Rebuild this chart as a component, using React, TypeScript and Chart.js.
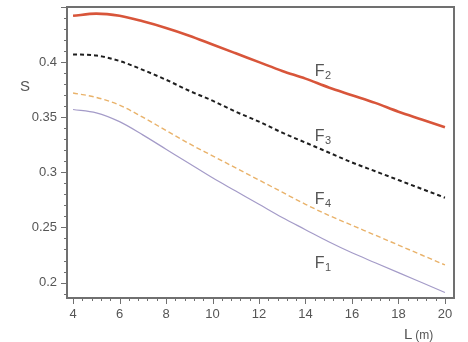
import { useEffect, useRef } from "react";
import { Chart, registerables } from "chart.js";

Chart.register(...registerables);

const L_VALUES = [4, 5, 6, 7, 8, 9, 10, 11, 12, 13, 14, 15, 16, 17, 18, 19, 20];
const F1 = [0.357, 0.354, 0.346, 0.334, 0.321, 0.308, 0.295, 0.283, 0.271, 0.259, 0.248, 0.237, 0.227, 0.218, 0.209, 0.2, 0.191];
const F2 = [0.442, 0.444, 0.442, 0.437, 0.431, 0.424, 0.416, 0.408, 0.4, 0.392, 0.385, 0.377, 0.37, 0.363, 0.355, 0.348, 0.341];
const F3 = [0.407, 0.406, 0.401, 0.393, 0.384, 0.374, 0.365, 0.355, 0.346, 0.336, 0.327, 0.318, 0.309, 0.301, 0.293, 0.285, 0.277];
const F4 = [0.372, 0.368, 0.361, 0.35, 0.338, 0.326, 0.315, 0.304, 0.293, 0.282, 0.271, 0.261, 0.252, 0.243, 0.234, 0.225, 0.216];

const X_TICKS = [4, 6, 8, 10, 12, 14, 16, 18, 20];
const Y_TICKS = [0.2, 0.25, 0.3, 0.35, 0.4];
const X_TITLE_MAIN = "L";
const X_TITLE_UNIT = "(m)";
const Y_TITLE = "S";

// curve labels: name, subscript, and the (L, S) anchor of the label baseline
const CURVE_LABELS: { main: string; sub: string; at: [number, number] }[] = [
  { main: "F", sub: "2", at: [14.4, 0.3875] },
  { main: "F", sub: "3", at: [14.4, 0.328] },
  { main: "F", sub: "4", at: [14.4, 0.271] },
  { main: "F", sub: "1", at: [14.4, 0.213] },
];

const FONT = "'Liberation Sans', Arial, sans-serif";
const TEXT_COLOR = "#555555";
const FRAME_COLOR = "#707070";

const decorPlugin = {
  id: "decor",
  afterDraw(chart: any) {
    const ctx: CanvasRenderingContext2D = chart.ctx;
    const chartArea = chart.chartArea;
    const xs = chart.scales.x;
    const ys = chart.scales.y;
    ctx.save();
    ctx.setLineDash([]);
    ctx.globalAlpha = 1;
    ctx.strokeStyle = FRAME_COLOR;
    ctx.lineWidth = 2;
    ctx.beginPath();
    ctx.rect(chartArea.left, chartArea.top, chartArea.right - chartArea.left, chartArea.bottom - chartArea.top);
    ctx.stroke();

    // major + minor ticks
    ctx.lineWidth = 1;
    ctx.beginPath();
    for (let i = 0; i <= 41; i++) {
      const v = 4 + i * 0.4;
      const px = Math.round(xs.getPixelForValue(v)) + 0.5;
      if (px > chartArea.right) continue;
      const len = i % 5 === 0 ? 6 : 3;
      ctx.moveTo(px, chartArea.bottom);
      ctx.lineTo(px, chartArea.bottom + len);
    }
    for (let i = 19; i <= 45; i++) {
      const v = i / 100;
      const py = Math.round(ys.getPixelForValue(v)) + 0.5;
      if (py < chartArea.top) continue;
      const len = i % 5 === 0 ? 6 : 3;
      ctx.moveTo(chartArea.left, py);
      ctx.lineTo(chartArea.left - len, py);
    }
    ctx.stroke();

    // curve labels
    ctx.fillStyle = TEXT_COLOR;
    ctx.textBaseline = "alphabetic";
    ctx.textAlign = "left";
    for (const lab of CURVE_LABELS) {
      const x = xs.getPixelForValue(lab.at[0]);
      const y = ys.getPixelForValue(lab.at[1]);
      ctx.font = `16px ${FONT}`;
      ctx.fillText(lab.main, x, y);
      const w = ctx.measureText(lab.main).width;
      ctx.font = `11px ${FONT}`;
      ctx.fillText(lab.sub, x + w + 0.5, y + 3);
    }

    // axis titles
    ctx.font = `15px ${FONT}`;
    ctx.textAlign = "center";
    ctx.textBaseline = "middle";
    ctx.fillText(Y_TITLE, chartArea.left - 42, chartArea.top + 80);

    ctx.textAlign = "left";
    ctx.textBaseline = "alphabetic";
    const tx = chartArea.right - 50;
    const ty = chartArea.bottom + 41;
    ctx.font = `15px ${FONT}`;
    ctx.fillText(X_TITLE_MAIN, tx, ty);
    const lw = ctx.measureText(X_TITLE_MAIN).width;
    ctx.font = `12px ${FONT}`;
    ctx.fillText(X_TITLE_UNIT, tx + lw + 3, ty);
    ctx.restore();
  },
};

export default function App() {
  const ref = useRef<HTMLCanvasElement | null>(null);

  useEffect(() => {
    if (!ref.current) return;
    const mk = (vals: number[]) => L_VALUES.map((l, i) => ({ x: l, y: vals[i] }));
    const chart = new Chart(ref.current, {
      type: "line",
      data: {
        datasets: [
          { label: "F1", data: mk(F1), borderColor: "#a49bc8", borderWidth: 1.2, pointRadius: 0, cubicInterpolationMode: "monotone" },
          { label: "F4", data: mk(F4), borderColor: "#e9b26a", borderWidth: 1.4, borderDash: [5, 3], pointRadius: 0, cubicInterpolationMode: "monotone" },
          { label: "F3", data: mk(F3), borderColor: "#1e1e1e", borderWidth: 2, borderDash: [4, 3], pointRadius: 0, cubicInterpolationMode: "monotone" },
          { label: "F2", data: mk(F2), borderColor: "#d8553a", borderWidth: 2.6, pointRadius: 0, cubicInterpolationMode: "monotone" },
        ],
      },
      options: {
        animation: false,
        responsive: false,
        maintainAspectRatio: false,
        layout: { padding: { top: 7, right: 14, left: 0, bottom: 0 } },
        plugins: { legend: { display: false }, tooltip: { enabled: false } },
        scales: {
          x: {
            type: "linear",
            min: 3.74,
            max: 20.39,
            afterBuildTicks: (s: any) => {
              s.ticks = X_TICKS.map((v) => ({ value: v }));
            },
            afterFit: (s: any) => {
              s.height = 44;
              s.paddingLeft = 0;
              s.paddingRight = 0;
            },
            grid: { display: false, drawTicks: false, tickLength: 8 },
            border: { display: false },
            ticks: { color: TEXT_COLOR, font: { family: FONT, size: 13 }, padding: 9, maxRotation: 0, autoSkip: false },
          },
          y: {
            type: "linear",
            min: 0.186,
            max: 0.45,
            afterBuildTicks: (s: any) => {
              s.ticks = Y_TICKS.map((v) => ({ value: v }));
            },
            afterFit: (s: any) => {
              s.width = 67;
              s.paddingTop = 0;
              s.paddingBottom = 0;
            },
            grid: { display: false, drawTicks: false, tickLength: 9 },
            border: { display: false },
            ticks: {
              color: TEXT_COLOR,
              font: { family: FONT, size: 13 },
              padding: 10,
              autoSkip: false,
              callback: (v: any) => String(Number(v)),
            },
          },
        },
      },
      plugins: [decorPlugin],
    } as any);
    return () => chart.destroy();
  }, []);

  return (
    <div style={{ position: "fixed", left: 0, top: 0, width: 468, height: 342, background: "#fff" }}>
      <canvas ref={ref} width={468} height={342} style={{ display: "block", width: 468, height: 342 }} />
    </div>
  );
}
